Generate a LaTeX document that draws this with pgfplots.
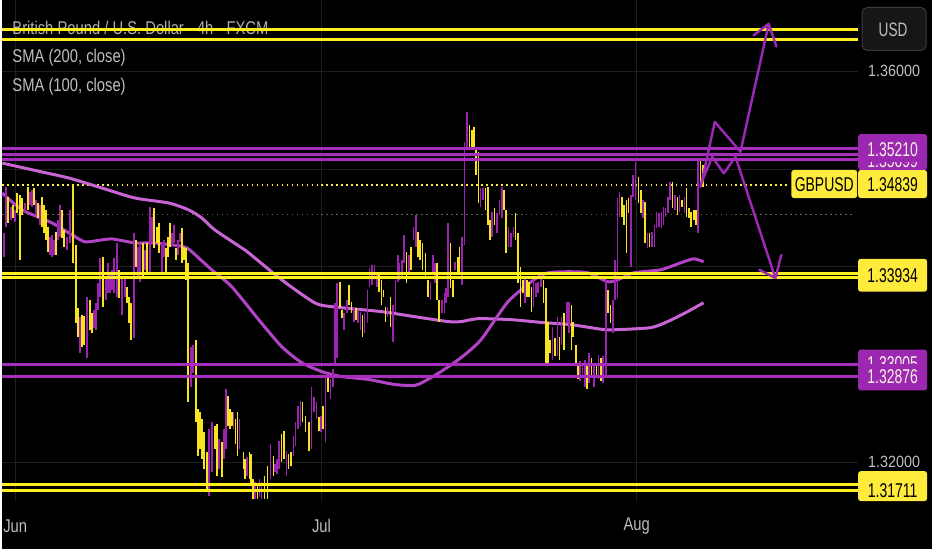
\documentclass[border=0pt]{standalone}
\usepackage{pgfplots}
\pgfplotsset{compat=1.18}
\usepackage{pgfplotstable}
\usepackage{fontspec}
\setmainfont{Liberation Sans}[FakeStretch=0.8]
\newfontfamily\axfont{Liberation Sans}[FakeStretch=0.88]
\newfontfamily\lbfont{Liberation Sans}[FakeStretch=0.7]

\definecolor{candU}{RGB}{248,228,30}
\definecolor{candD}{RGB}{156,34,176}
\definecolor{lvlY}{RGB}{255,238,30}
\definecolor{lvlP}{RGB}{168,45,190}
\definecolor{smaA}{RGB}{200,100,212}
\definecolor{smaB}{RGB}{178,66,198}
\definecolor{gridc}{RGB}{30,30,30}
\definecolor{tvtext}{RGB}{190,190,195}
\definecolor{titlec}{RGB}{175,175,178}
\definecolor{boxY}{RGB}{255,235,59}
\definecolor{boxP}{RGB}{156,39,176}
\definecolor{ptext}{RGB}{245,242,228}
\definecolor{arrowP}{RGB}{160,40,185}
\definecolor{dotgray}{RGB}{105,95,85}

% candles: x = time index (Jun = 13, Jul = 320, Aug = 636), hi / lo prices
\pgfplotstableread{
x hi lo
6 1.34715 1.34449
11 1.34633 1.34500
15 1.34755 1.34551
18 1.34735 1.34072
20 1.34704 1.34531
26 1.34817 1.34582
32 1.34806 1.34633
36 1.34653 1.34500
40 1.34715 1.34409
42 1.34633 1.34347
44 1.34582 1.34276
46 1.34409 1.34154
54 1.34358 1.34123
60 1.34582 1.34296
62 1.34378 1.34205
71 1.34837 1.34041
74 1.34225 1.33429
76 1.33582 1.33287
80 1.33511 1.33185
82 1.33501 1.33205
88 1.33664 1.33358
90 1.33531 1.33328
101 1.34103 1.33593
117 1.33970 1.33684
125 1.33797 1.33633
127 1.33695 1.33429
129 1.33633 1.33256
134 1.34276 1.34001
141 1.34245 1.33899
145 1.34245 1.33939
152 1.34602 1.34194
155 1.34409 1.34245
157 1.34449 1.34143
164 1.34194 1.33919
166 1.34307 1.34103
168 1.34449 1.34205
174 1.34194 1.34072
180 1.34398 1.34041
182 1.34205 1.34072
184 1.34194 1.33868
186 1.34041 1.32613
194 1.33256 1.32409
196 1.32542 1.32063
198 1.32511 1.32134
200 1.32440 1.32032
202 1.32308 1.31930
205 1.32104 1.31726
213 1.32369 1.32134
215 1.32389 1.31859
220 1.32206 1.31848
226 1.32674 1.32369
228 1.32542 1.32338
230 1.32511 1.32369
234 1.32440 1.32185
236 1.32511 1.32063
241.7 1.32104 1.31930
243.3 1.32032 1.31828
247.7 1.32104 1.31828
249.3 1.32083 1.31757
251.3 1.31828 1.31624
256 1.31757 1.31624
262.7 1.31859 1.31624
266 1.31961 1.31624
271.7 1.32063 1.31859
280 1.32287 1.32001
282.7 1.32318 1.32032
287 1.32083 1.31930
289.3 1.32104 1.31961
301 1.32613 1.32409
304 1.32470 1.32308
307.3 1.32409 1.32114
317.3 1.32460 1.32318
321.7 1.32573 1.32338
326.7 1.32878 1.32715
338.3 1.33848 1.33593
340.7 1.33562 1.33480
347.3 1.33817 1.33613
350 1.33644 1.33531
354.3 1.33582 1.33460
361 1.33511 1.33287
377.7 1.33919 1.33746
380 1.33868 1.33613
382 1.33766 1.33695
384 1.33593 1.33440
389 1.33695 1.33389
405.3 1.34154 1.33837
410 1.34205 1.33970
416.7 1.34358 1.34103
419 1.34276 1.34072
421.3 1.34245 1.33970
424.3 1.34143 1.33899
426.7 1.33868 1.33695
435.7 1.34041 1.33664
438 1.33664 1.33440
449.3 1.34245 1.33786
452 1.33868 1.33695
456.7 1.34103 1.33919
458.3 1.34205 1.33919
468.3 1.35449 1.35225
470.7 1.35398 1.35214
472.7 1.35429 1.35194
475 1.35214 1.34939
477.3 1.35174 1.34653
484.3 1.34806 1.34582
486.7 1.34817 1.34429
489 1.34480 1.34276
493.3 1.34602 1.34429
502.7 1.34786 1.34582
505 1.34582 1.34143
514.3 1.34551 1.34276
516.7 1.34347 1.33837
519.3 1.34001 1.33593
521.7 1.33868 1.33735
526 1.33868 1.33695
528.3 1.33848 1.33695
530.7 1.33797 1.33542
542.7 1.33868 1.33633
545 1.33786 1.33021
547.3 1.33440 1.33021
549.3 1.33256 1.33123
554 1.33276 1.33083
558.7 1.33287 1.33052
563.3 1.33531 1.33154
570.7 1.33613 1.33154
572.3 1.33440 1.33287
575 1.33205 1.32981
577.3 1.33021 1.32848
586 1.33021 1.32746
590.7 1.33072 1.32868
595.7 1.32981 1.32878
600 1.33072 1.32828
607.3 1.33766 1.33531
609.7 1.33613 1.33429
621 1.34715 1.34511
623.3 1.34633 1.34429
625.7 1.34684 1.34143
627.7 1.34704 1.34551
637.7 1.34919 1.34653
640 1.34786 1.34551
644.3 1.34664 1.34245
649 1.34347 1.34205
671.7 1.34868 1.34602
676.7 1.34715 1.34531
681.3 1.34684 1.34613
686 1.34806 1.34511
688.3 1.34602 1.34500
690.7 1.34562 1.34409
693.3 1.34582 1.34480
695.7 1.34582 1.34429
700 1.35092 1.34857
702.3 1.35041 1.34817
}\upT

\pgfplotstableread{
x hi lo
2 1.34347 1.34103
4 1.34817 1.34409
9 1.34613 1.34480
13 1.34582 1.34460
23 1.34653 1.34562
28 1.34766 1.34633
30 1.34786 1.34613
34 1.34684 1.34531
38 1.34633 1.34429
48 1.34307 1.34123
50 1.34327 1.34103
52 1.34276 1.34123
56 1.34480 1.34276
58 1.34633 1.34307
65 1.34307 1.34174
68 1.34582 1.34245
78 1.33491 1.33123
85 1.33695 1.33072
92 1.33562 1.33378
94 1.33633 1.33358
96 1.33837 1.33562
98 1.34092 1.33695
104 1.33899 1.33664
106 1.34041 1.33735
108 1.33939 1.33735
110 1.33970 1.33766
112 1.34092 1.33735
115 1.34245 1.33695
120 1.33899 1.33511
123 1.33899 1.33695
132 1.34347 1.33276
136 1.34205 1.33899
138 1.34225 1.33848
143 1.34174 1.33970
148 1.34613 1.33939
150 1.34511 1.34245
160 1.34245 1.33939
162 1.34276 1.34103
170 1.34347 1.34225
172 1.34429 1.34245
176 1.34276 1.34123
178 1.34347 1.34256
189 1.33185 1.32776
191 1.33205 1.32919
207 1.32338 1.31655
210 1.32409 1.31900
217 1.32236 1.31930
222 1.32338 1.32032
224 1.32746 1.32134
232 1.32511 1.32338
238 1.32440 1.32134
245.3 1.32053 1.31859
253.3 1.31798 1.31624
258 1.31828 1.31644
260 1.31798 1.31624
268.7 1.32185 1.31828
273.3 1.31981 1.31900
275.5 1.32032 1.31879
277.3 1.32216 1.31930
285 1.32114 1.31859
292 1.32267 1.32063
294 1.32409 1.32165
296.7 1.32573 1.32338
299 1.32624 1.32369
310 1.32766 1.32134
312.7 1.32664 1.32511
315 1.32613 1.32440
319.3 1.32470 1.32308
324 1.32878 1.32206
329 1.32848 1.32644
331.7 1.32950 1.32776
333.3 1.33633 1.32981
335.7 1.33837 1.33072
342.7 1.33531 1.33358
345.3 1.33664 1.33531
352.3 1.33593 1.33440
356.7 1.33562 1.33429
359.3 1.33542 1.33358
363.3 1.33531 1.33328
366 1.33766 1.33429
368.3 1.33990 1.33797
370.7 1.34021 1.33817
373.3 1.34021 1.33899
375.7 1.33939 1.33797
386 1.33593 1.33491
391.7 1.33613 1.33236
394 1.33868 1.33542
396.7 1.34123 1.33848
398.3 1.34041 1.33868
400.7 1.34072 1.33899
402.7 1.34327 1.34041
407.7 1.34123 1.33939
412.3 1.34409 1.34276
415 1.34531 1.34205
429.3 1.33848 1.33664
432 1.34123 1.33939
434 1.34041 1.33837
440.7 1.33664 1.33531
443.3 1.33735 1.33531
445 1.33786 1.33633
446.7 1.34449 1.33695
454 1.34052 1.33970
461 1.34307 1.33817
463.3 1.35276 1.34225
465.7 1.35582 1.35194
479.3 1.34806 1.34613
482 1.34806 1.34684
491 1.34562 1.34307
495.7 1.34551 1.34347
498.3 1.34684 1.34531
500.7 1.34817 1.34500
507.3 1.34409 1.34205
510 1.34347 1.34205
512.3 1.34409 1.34307
524 1.33899 1.33633
532.7 1.33899 1.33593
535 1.33837 1.33695
537.3 1.33848 1.33735
540 1.33939 1.33797
551.7 1.33389 1.33052
556.7 1.33491 1.33083
560.7 1.33491 1.33205
566 1.33644 1.33429
568.3 1.33644 1.33328
579.3 1.33032 1.32828
581.7 1.33021 1.32878
584 1.33052 1.32776
588.3 1.33123 1.32817
593.3 1.33021 1.32776
597.7 1.33103 1.32848
602.3 1.33083 1.32817
605 1.33868 1.32878
612 1.33664 1.33328
614 1.34072 1.33664
616.7 1.34704 1.33684
618.7 1.34766 1.34511
630 1.34735 1.34001
632.3 1.34939 1.34715
634.7 1.35072 1.34684
642 1.34684 1.34500
646.7 1.34347 1.34194
651.3 1.34358 1.34205
654 1.34429 1.34205
656 1.34562 1.34398
658.3 1.34551 1.34409
660.7 1.34562 1.34398
662.7 1.34613 1.34429
665 1.34602 1.34511
667.3 1.34715 1.34551
669.3 1.34868 1.34684
674.3 1.34735 1.34582
679 1.34735 1.34562
683.7 1.34715 1.34551
697.7 1.35092 1.34347
}\downT

\begin{document}
\begin{tikzpicture}
\fill[black] (0,0) rectangle (932pt,550pt);
\begin{axis}[
  at={(0pt,48pt)}, anchor=south west,
  width=858pt, height=502pt, scale only axis,
  xmin=0, xmax=858, ymin=1.3160204, ymax=1.3672449,
  clip=false,
  axis line style={draw=none},
  major tick length=0pt,
  tick style={draw=none},
  scaled y ticks=false,
  xtick={13,320,636}, xticklabels={Jun,Jul,Aug},
  ytick={1.32,1.33,1.34,1.35,1.36}, yticklabels={1.32000,,,,1.36000},
  yticklabel pos=right,
  grid=major, grid style={color=gridc, line width=1pt},
  xticklabel style={font=\fontsize{18.5}{20}\selectfont, text=tvtext, anchor=center, yshift=-25pt},
  yticklabel style={font=\axfont\fontsize{16.3}{18}\selectfont, text=tvtext, anchor=center, xshift=36pt},
]
% legend texts
\node[anchor=west, inner sep=0pt, font=\fontsize{18.5}{20}\selectfont, text=titlec] at (axis cs:10,1.36443) {British Pound / U.S. Dollar · 4h · FXCM};
\node[anchor=west, inner sep=0pt, font=\fontsize{18.5}{20}\selectfont, text=tvtext] at (axis cs:10,1.36143) {SMA (200, close)};
\node[anchor=west, inner sep=0pt, font=\fontsize{18.5}{20}\selectfont, text=tvtext] at (axis cs:10,1.35847) {SMA (100, close)};

% dotted price lines
\addplot[boxY, line width=1.5pt, dash pattern=on 1.5pt off 3.5pt, forget plot] coordinates {(0,1.34839) (790,1.34839)};
\addplot[dotgray, line width=1.5pt, dash pattern=on 1.5pt off 3.5pt, forget plot] coordinates {(0,1.34536) (855,1.34536)};

% SMA 200
\addplot[smaA, line width=3pt, line join=round, smooth, tension=0.4, forget plot] coordinates {
(0,1.35061) (40,1.34970) (67,1.34908) (100,1.34806) (133,1.34704) (167,1.34653) (187,1.34582) (200,1.34500) (213,1.34378) (240,1.34194) (247,1.34143) (280,1.33868) (313,1.33633) (330,1.33593) (380,1.33542) (413,1.33491) (447,1.33440) (460,1.33440) (477,1.33470) (510,1.33460) (543,1.33429) (570,1.33409) (603,1.33358) (617,1.33358) (650,1.33378) (667,1.33440) (687,1.33542) (703,1.33633)};
% SMA 100
\addplot[smaB, line width=3pt, line join=round, smooth, tension=0.4, forget plot] coordinates {
(0,1.34755) (20,1.34582) (50,1.34449) (70,1.34327) (83,1.34256) (100,1.34276) (110,1.34286) (133,1.34245) (150,1.34245) (170,1.34225) (185,1.34194) (200,1.34062) (210,1.33970) (230,1.33797) (257,1.33460) (280,1.33185) (300,1.33021) (320,1.32930) (340,1.32878) (367,1.32848) (393,1.32797) (413,1.32787) (423,1.32828) (440,1.32930) (460,1.33072) (480,1.33256) (507,1.33644) (533,1.33868) (547,1.33939) (567,1.33950) (587,1.33939) (607,1.33848) (617,1.33868) (633,1.33939) (660,1.33970) (680,1.34041) (693,1.34082) (703,1.34052)};

% candles
\addplot[draw=none, mark=none, forget plot, error bars/.cd, y dir=plus, y explicit, error mark=none, error bar style={draw=candU, line width=1.6pt}]
  table[x=x, y=lo, y error plus expr=\thisrow{hi}-\thisrow{lo}] {\upT};
\addplot[draw=none, mark=none, forget plot, error bars/.cd, y dir=plus, y explicit, error mark=none, error bar style={draw=candD, line width=1.6pt}]
  table[x=x, y=lo, y error plus expr=\thisrow{hi}-\thisrow{lo}] {\downT};

% horizontal levels
\addplot[lvlY, line width=2.8pt, forget plot] coordinates {(0,1.36426) (858,1.36426)};
\addplot[lvlY, line width=2.8pt, forget plot] coordinates {(0,1.36322) (858,1.36322)};
\addplot[lvlP, line width=2.8pt, forget plot] coordinates {(0,1.35210) (858,1.35210)};
\addplot[lvlP, line width=2.8pt, forget plot] coordinates {(0,1.35152) (858,1.35152)};
\addplot[lvlP, line width=2.8pt, forget plot] coordinates {(0,1.35099) (858,1.35099)};
\addplot[lvlY, line width=2.8pt, forget plot] coordinates {(0,1.33934) (858,1.33934)};
\addplot[lvlY, line width=2.8pt, forget plot] coordinates {(0,1.33892) (858,1.33892)};
\addplot[lvlP, line width=2.8pt, forget plot] coordinates {(0,1.33005) (858,1.33005)};
\addplot[lvlP, line width=2.8pt, forget plot] coordinates {(0,1.32876) (858,1.32876)};
\addplot[lvlY, line width=2.8pt, forget plot] coordinates {(0,1.31775) (858,1.31775)};
\addplot[lvlY, line width=2.8pt, forget plot] coordinates {(0,1.31711) (858,1.31711)};

% projection arrows
\addplot[arrowP, line width=2.4pt, line join=round, line cap=round, forget plot] coordinates {(700,1.34817) (714.3,1.35483) (740,1.35177) (768.3,1.36486)};
\addplot[arrowP, line width=2.4pt, line join=round, line cap=round, forget plot] coordinates {(753,1.36367) (768.3,1.36486) (776,1.36255)};
\addplot[arrowP, line width=2.4pt, line join=round, line cap=round, forget plot] coordinates {(700,1.34837) (711.7,1.35126) (723.3,1.34956) (735,1.35126) (775,1.33885)};
\addplot[arrowP, line width=2.4pt, line join=round, line cap=round, forget plot] coordinates {(759,1.33970) (775,1.33885) (781,1.34123)};

% price scale labels
\fill[boxP, rounded corners=2.5pt] (axis cs:858,1.35357) rectangle (axis cs:927,1.34990);
\begin{scope}
\clip (axis cs:858,1.35072) rectangle (axis cs:927,1.34990);
\node[font=\lbfont\fontsize{20}{22}\selectfont, text=ptext, inner sep=0pt] at (axis cs:892.5,1.35082) {1.35099};
\end{scope}
\node[font=\lbfont\fontsize{20}{22}\selectfont, text=ptext, inner sep=0pt] at (axis cs:892.5,1.35204) {1.35210};

\fill[boxY, rounded corners=2.5pt] (axis cs:858,1.34990) rectangle (axis cs:927,1.34704);
\node[font=\lbfont\fontsize{20}{22}\selectfont, text=black, inner sep=0pt] at (axis cs:892.5,1.34842) {1.34839};
\fill[boxY, rounded corners=2.5pt] (axis cs:791,1.34990) rectangle (axis cs:857,1.34704);
\node[font=\lbfont\fontsize{20}{22}\selectfont, text=black, inner sep=0pt] at (axis cs:824,1.34842) {GBPUSD};

\fill[boxY, rounded corners=2.5pt] (axis cs:858,1.34082) rectangle (axis cs:927,1.33746);
\node[font=\lbfont\fontsize{20}{22}\selectfont, text=black, inner sep=0pt] at (axis cs:892.5,1.33914) {1.33934};

\fill[boxP, rounded corners=2.5pt] (axis cs:858,1.33154) rectangle (axis cs:927,1.32736);
\begin{scope}
\clip (axis cs:858,1.33154) rectangle (axis cs:927,1.33016);
\node[font=\lbfont\fontsize{20}{22}\selectfont, text=ptext, inner sep=0pt] at (axis cs:892.5,1.33011) {1.33005};
\end{scope}
\node[font=\lbfont\fontsize{20}{22}\selectfont, text=ptext, inner sep=0pt] at (axis cs:892.5,1.32878) {1.32876};

\fill[boxY, rounded corners=2.5pt] (axis cs:858,1.31910) rectangle (axis cs:927,1.31604);
\node[font=\lbfont\fontsize{20}{22}\selectfont, text=black, inner sep=0pt] at (axis cs:892.5,1.31716) {1.31711};

\filldraw[fill={rgb,255:red,22;green,22;blue,22}, draw={rgb,255:red,62;green,60;blue,55}, line width=1pt, rounded corners=5pt] (axis cs:862,1.36653) rectangle (axis cs:926,1.36214);
\node[font=\lbfont\fontsize{19.5}{21}\selectfont, text=tvtext, inner sep=0pt] at (axis cs:893,1.36428) {USD};
\end{axis}
\end{tikzpicture}
\end{document}
